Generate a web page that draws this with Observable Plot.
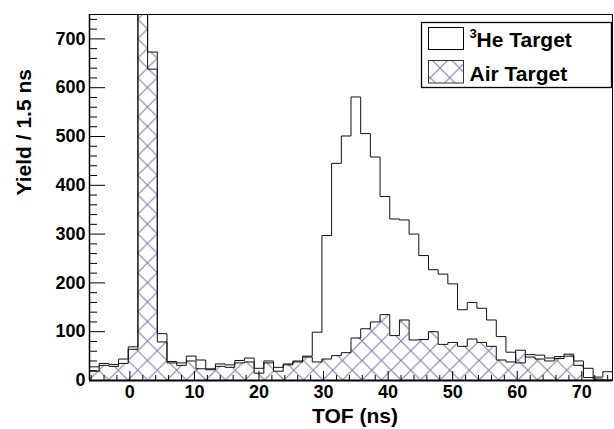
<!DOCTYPE html>
<html><head><meta charset="utf-8">
<script src="https://cdn.jsdelivr.net/npm/d3@7"></script>
<script src="https://cdn.jsdelivr.net/npm/@observablehq/plot@0.6"></script>
<style>body{margin:0;background:#fff}</style>
</head><body><div id="chart"></div>
<script>
// Histogram bins: 1.5 ns wide starting at -6.25 ns
const binStart = -6.25;
const binWidth = 1.5;
// 3He target yield per bin (peak bin is off-scale)
const heYield = [28,35,33,44,69,1200,638,96,39,36,50,42,24,34,32,41,46,25,40,27,34,40,50,99,297,445,501,581,506,458,377,331,329,300,256,227,218,198,145,160,148,124,90,58,36,53,52,46,45,50,40,25,7,18];
// Air target yield per bin
const airYield = [19,31,29,35,64,1150,673,79,36,31,40,24,22,29,27,36,38,15,36,19,32,38,48,38,44,51,57,87,106,120,135,92,124,83,84,100,74,78,70,85,78,70,42,38,62,48,44,40,49,54,31,6,3,1];
const xTickLabels = [0,10,20,30,40,50,60,70];
const yTickLabels = [0,100,200,300,400,500,600,700];
const xMinorTicks = [-6,-4,-2,2,4,6,8,12,14,16,18,22,24,26,28,32,34,36,38,42,44,46,48,52,54,56,58,62,64,66,68,72,74];
const yMinorTicks = [20,40,60,80,120,140,160,180,220,240,260,280,320,340,360,380,420,440,460,480,520,540,560,580,620,640,660,680,720,740];
const legendLabels = ["He Target", "Air Target"];
const xTitle = "TOF (ns)";
const yTitle = "Yield / 1.5 ns";

const W = 614, H = 429, mL = 89, mR = 2, mT = 14, mB = 49;
const innerW = W - mL - mR, innerH = H - mT - mB;
const font = "'Liberation Sans', Arial, Helvetica, sans-serif";

function steps(vals) {
  const pts = vals.map((v, i) => ({x: binStart + i * binWidth, y: v}));
  pts.push({x: binStart + vals.length * binWidth, y: vals[vals.length - 1]});
  return pts;
}

const plot = Plot.plot({
  width: W, height: H,
  marginLeft: mL, marginRight: mR, marginTop: mT, marginBottom: mB,
  style: {fontFamily: font, background: "white", color: "#000", overflow: "visible"},
  x: {domain: [binStart, binStart + heYield.length * binWidth]},
  y: {domain: [0, 750]},
  marks: [
    Plot.areaY(steps(airYield), {x: "x", y: "y", curve: "step-after", fill: "url(#airHatch)", clip: true}),
    Plot.lineY(steps(airYield), {x: "x", y: "y", curve: "step-after", stroke: "#111", strokeWidth: 1, clip: true}),
    Plot.lineY(steps(heYield), {x: "x", y: "y", curve: "step-after", stroke: "#111", strokeWidth: 1, clip: true}),
    Plot.tickX(xTickLabels, {x: d => d, insetTop: innerH - 9, stroke: "#000"}),
    Plot.tickX(xMinorTicks, {x: d => d, insetTop: innerH - 5, stroke: "#000"}),
    Plot.tickY(yTickLabels, {y: d => d, insetRight: innerW - 16, stroke: "#000"}),
    Plot.tickY(yMinorTicks, {y: d => d, insetRight: innerW - 8, stroke: "#000"}),
    Plot.axisX({ticks: xTickLabels, tickSize: 0, tickPadding: 5, fontSize: 18, fontWeight: "bold", label: null}),
    Plot.axisY({ticks: yTickLabels, tickSize: 0, tickPadding: 4, fontSize: 18, fontWeight: "bold", label: null}),
    Plot.frame({stroke: "#000", strokeWidth: 1}),
    Plot.ruleY([0], {stroke: "#000", strokeWidth: 2}),
    Plot.ruleX([binStart], {stroke: "#000", strokeWidth: 1.5}),
    Plot.text([xTitle], {text: d => d, frameAnchor: "bottom", dx: 4, dy: 36, fontSize: 21, fontWeight: "bold", lineAnchor: "middle"}),
    Plot.text([yTitle], {text: d => d, frameAnchor: "left", rotate: -90, dx: -65, dy: -2, fontSize: 21, fontWeight: "bold", lineAnchor: "middle"})
  ]
});

const svg = d3.select(plot);
const defs = svg.insert("defs", ":first-child");
const pat = defs.append("pattern").attr("id", "airHatch")
  .attr("patternUnits", "userSpaceOnUse").attr("width", 19.5).attr("height", 19.5)
  .attr("x", 89).attr("y", 380);
pat.append("path").attr("d", "M-1,-1L20.5,20.5M20.5,-1L-1,20.5")
  .attr("stroke", "#7f7fa6").attr("stroke-width", 1.1).attr("fill", "none");

// Legend
const lg = svg.append("g").attr("font-family", font).attr("font-weight", "bold").attr("text-anchor", "start");
lg.append("rect").attr("x", 421.5).attr("y", 22.5).attr("width", 190).attr("height", 65)
  .attr("fill", "white").attr("stroke", "#000").attr("stroke-width", 1.3);
lg.append("rect").attr("x", 428.5).attr("y", 27.5).attr("width", 35).attr("height", 22)
  .attr("fill", "white").attr("stroke", "#000").attr("stroke-width", 1);
lg.append("rect").attr("x", 428.5).attr("y", 60.5).attr("width", 35).attr("height", 22.5)
  .attr("fill", "url(#airHatch)").attr("stroke", "#333").attr("stroke-width", 1);
lg.append("text").attr("x", 469.5).attr("y", 37.5).attr("font-size", 13).attr("text-anchor", "start").text("3");
lg.append("text").attr("x", 476.5).attr("y", 46.5).attr("font-size", 21).attr("text-anchor", "start").text(legendLabels[0]);
lg.append("text").attr("x", 469.5).attr("y", 81).attr("font-size", 21).attr("text-anchor", "start").text(legendLabels[1]);

document.getElementById("chart").appendChild(plot);
</script>
</body></html>
